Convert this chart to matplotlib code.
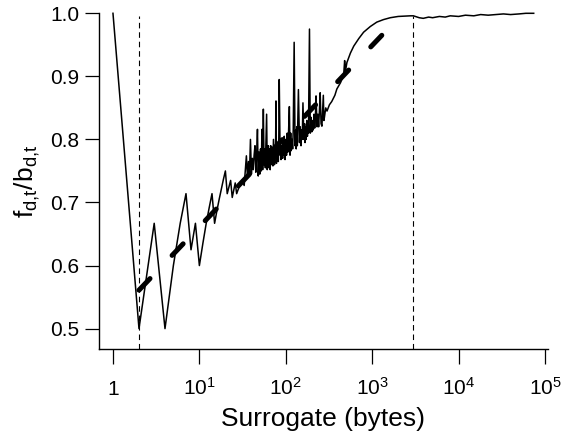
import numpy as np
import matplotlib
matplotlib.use('Agg')
import matplotlib.pyplot as plt

# ratio curve
surr = [1, 2, 3, 4, 5, 6, 7, 8, 9, 10, 11, 12, 13, 14, 15, 16, 17, 18, 19, 20,
        21, 23, 24, 26, 27, 28, 31, 33, 35, 36, 37, 38, 39, 40, 41, 42, 43,
        44, 45, 46, 47, 48, 49, 50, 51, 52, 53, 54, 55, 56, 57, 58, 60, 61,
        62, 63, 64, 65, 66, 67, 68, 70, 71, 72, 74, 75, 76, 77, 78, 79, 80,
        82, 83, 84, 86, 87, 88, 90, 92, 93, 95, 96, 98, 100, 102, 104, 106,
        107, 110, 112, 114, 115, 118, 120, 122, 125, 128, 130, 132, 134, 136,
        140, 144, 147, 150, 153, 155, 158, 162, 165, 167, 170, 172, 175, 178,
        181, 183, 188, 192, 196, 200, 204, 208, 212, 216, 220, 224, 230, 235,
        240, 245, 250, 256, 262, 268, 272, 276, 280, 290, 300, 320, 340, 357,
        370, 390, 410, 430, 468, 480, 490, 510, 560, 612, 700, 795, 950, 1130,
        1350, 1620, 2000, 2770, 3000, 3500, 3900, 4500, 5000, 6000, 7000, 8000,
        10000, 12000, 15000, 18000, 22000, 27000, 33000, 40000, 50000, 60000,
        74000]
ratio = [1.0, 0.5, 0.667, 0.5, 0.6, 0.667, 0.714, 0.625, 0.667, 0.6, 0.636,
         0.667, 0.692, 0.714, 0.667, 0.688, 0.706, 0.722, 0.737, 0.75,
         0.714, 0.735, 0.708, 0.731, 0.714, 0.72, 0.735, 0.727, 0.774, 0.74,
         0.765, 0.745, 0.80, 0.745, 0.77, 0.752, 0.775, 0.79, 0.748, 0.775,
         0.816, 0.742, 0.78, 0.745, 0.785, 0.75, 0.816, 0.752, 0.848, 0.76,
         0.785, 0.755, 0.84, 0.752, 0.78, 0.79, 0.755, 0.785, 0.752, 0.79,
         0.76, 0.785, 0.758, 0.80, 0.76, 0.79, 0.77, 0.861, 0.762, 0.795,
         0.77, 0.765, 0.80, 0.895, 0.775, 0.80, 0.768, 0.79, 0.77, 0.80,
         0.775, 0.805, 0.768, 0.80, 0.775, 0.81, 0.78, 0.80, 0.852, 0.775,
         0.81, 0.782, 0.80, 0.785, 0.815, 0.954, 0.79, 0.815, 0.785, 0.82,
         0.79, 0.879, 0.795, 0.82, 0.79, 0.815, 0.80, 0.858, 0.80, 0.825,
         0.795, 0.82, 0.80, 0.83, 0.805, 0.825, 0.81, 0.975, 0.81, 0.835,
         0.812, 0.83, 0.815, 0.84, 0.818, 0.835, 0.869, 0.82, 0.84, 0.82,
         0.845, 0.874, 0.825, 0.821, 0.85, 0.87, 0.83, 0.835, 0.85, 0.845,
         0.855, 0.86, 0.866, 0.87, 0.88, 0.885, 0.89, 0.903, 0.925, 0.908,
         0.922, 0.937, 0.948, 0.96, 0.97, 0.979, 0.986, 0.99, 0.993, 0.995,
         0.996, 0.996, 0.993, 0.992, 0.994, 0.993, 0.995, 0.994, 0.996,
         0.995, 0.997, 0.996, 0.998, 0.997, 0.998, 0.999, 0.998, 0.999, 1.0,
         1.0]

# straight fit (in log x)
fit_x = [2, 1420]
fit_y = [0.561, 0.971]

# markers
cut_x = [2, 3000]
cut_top = 0.995

plt.rcParams['font.family'] = ['Liberation Sans', 'DejaVu Sans']

fig = plt.figure(figsize=(5.66, 4.36), dpi=100)
ax = fig.add_axes([0.175, 0.2, 0.793, 0.7695])

ax.plot(surr, ratio, color='black', lw=1.1, clip_on=False)
ax.plot(fit_x, fit_y, color='black', lw=3.6, ls=(0, (3.2, 6.4)),
        dash_capstyle='round')
ax.vlines(cut_x, 0.468, cut_top, colors='black', lw=0.8,
          linestyles=(0, (5, 3.5)))

ax.set_xscale('log')
ax.set_xlim(0.69, 1.08e5)
ax.set_ylim(0.468, 1.0)

xt = [1, 10, 100, 1000, 10000, 100000]
xl = ['1'] + [r'$\mathregular{10^{%d}}$' % i for i in range(1, 6)]
ax.set_xticks(xt, xl)
ax.xaxis.set_minor_locator(matplotlib.ticker.NullLocator())
ax.set_yticks([0.5, 0.6, 0.7, 0.8, 0.9, 1.0],
              ['0.5', '0.6', '0.7', '0.8', '0.9', '1.0'])

for s in ['top', 'right']:
    ax.spines[s].set_visible(False)
for s in ['left', 'bottom']:
    ax.spines[s].set_linewidth(1.0)

ax.tick_params(axis='x', length=11, width=0.9, labelsize=15, pad=22)
ax.tick_params(axis='y', length=10, width=0.9, labelsize=15, pad=4)
for t in ax.get_xticklabels():
    t.set_verticalalignment('baseline')

ax.set_xlabel('Surrogate (bytes)', fontsize=19, labelpad=6)
ax.set_ylabel(r'$\mathregular{f_{d{,}t}/b_{d{,}t}}$', fontsize=19, labelpad=6)

fig.savefig('out.png', dpi=100)
